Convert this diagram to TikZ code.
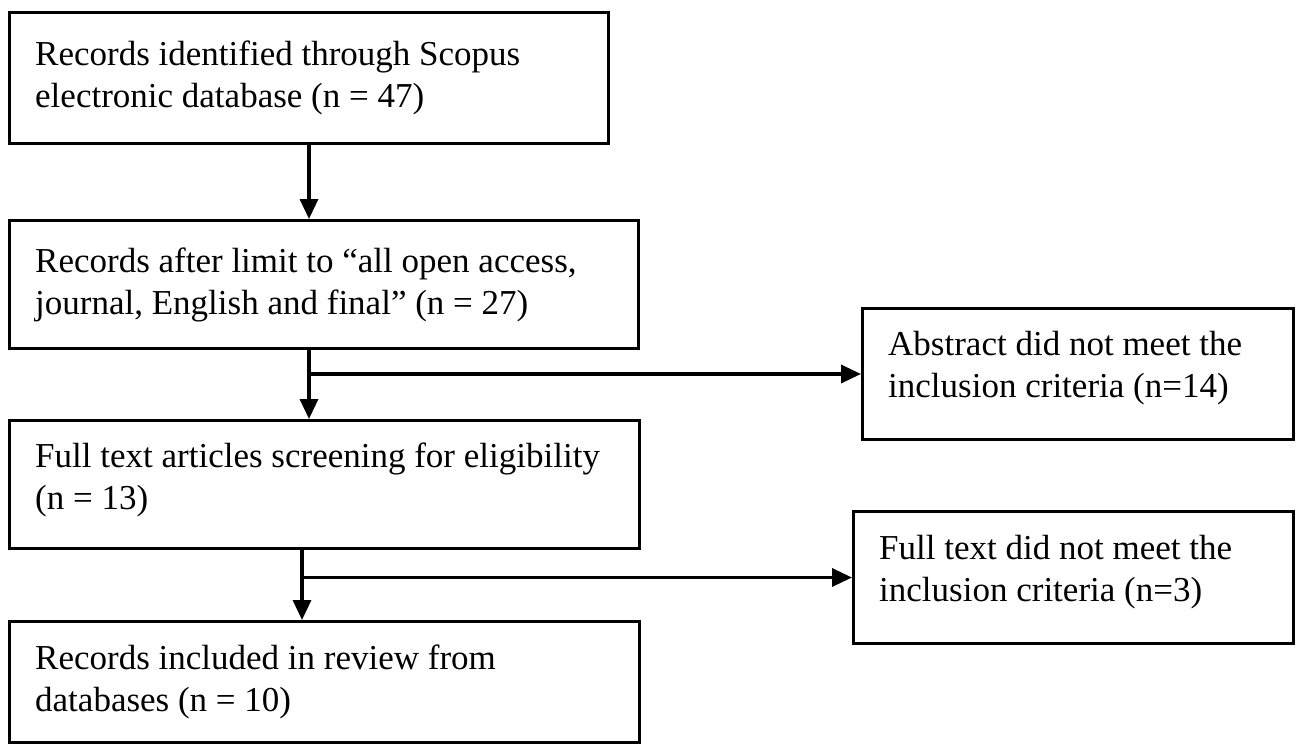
\documentclass[tikz,border=0pt]{standalone}
\usepackage{fontspec}
\setmainfont{Liberation Serif}
\usetikzlibrary{arrows.meta,calc}
\begin{document}
\begin{tikzpicture}[x=1pt,y=-1pt,
  box/.style={draw=black,line width=3pt,rectangle,inner sep=0pt,anchor=north west},
  txt/.style={anchor=north west,inner sep=0pt,align=left,font=\fontsize{35}{42}\selectfont},
  arr/.style={line width=3.4pt,-{Triangle[width=18pt,length=20pt]}}]
\useasboundingbox (0,0) rectangle (1297,744);
% left column
\node[box,minimum width=599pt,minimum height=131pt] (b1) at (8,11) {};
\node[box,minimum width=629pt,minimum height=128pt] (b2) at (8,219) {};
\node[box,minimum width=630pt,minimum height=128pt] (b3) at (8,419) {};
\node[box,minimum width=630pt,minimum height=121pt] (b4) at (8,620) {};
% right column
\node[box,minimum width=431pt,minimum height=131pt] (r1) at (861,307) {};
\node[box,minimum width=440pt,minimum height=132pt] (r2) at (852,510) {};
% texts
\node[txt] (t1) at ($(b1.north west)+(27,30)$) {Records identified through Scopus\\electronic database (n = 47)};
\node[txt] (t2) at ($(b2.north west)+(27,29)$) {Records after limit to “all open access,\\journal, English and final” (n = 27)};
\node[txt] (t3) at ($(b3.north west)+(27,24)$) {Full text articles screening for eligibility\\(n = 13)};
\node[txt] (t4) at ($(b4.north west)+(27,25)$) {Records included in review from\\databases (n = 10)};
\node[txt] (t5) at ($(r1.north west)+(27,24)$) {Abstract did not meet the\\inclusion criteria (n=14)};
\node[txt] (t6) at ($(r2.north west)+(27,25)$) {Full text did not meet the\\inclusion criteria (n=3)};
% connectors
\draw[arr] ([xshift=301pt]b1.south west) -- ([xshift=301pt]b2.north west);
\draw[arr] ([xshift=301pt]b2.south west) -- ([xshift=301pt]b3.north west);
\draw[arr] ([xshift=301pt]b2.south west |- r1.west) -- (r1.west);
\draw[arr] ([xshift=294pt]b3.south west) -- ([xshift=294pt]b4.north west);
\draw[arr] ([xshift=294pt]b3.south west |- r2.west) -- (r2.west);
\end{tikzpicture}
\end{document}
